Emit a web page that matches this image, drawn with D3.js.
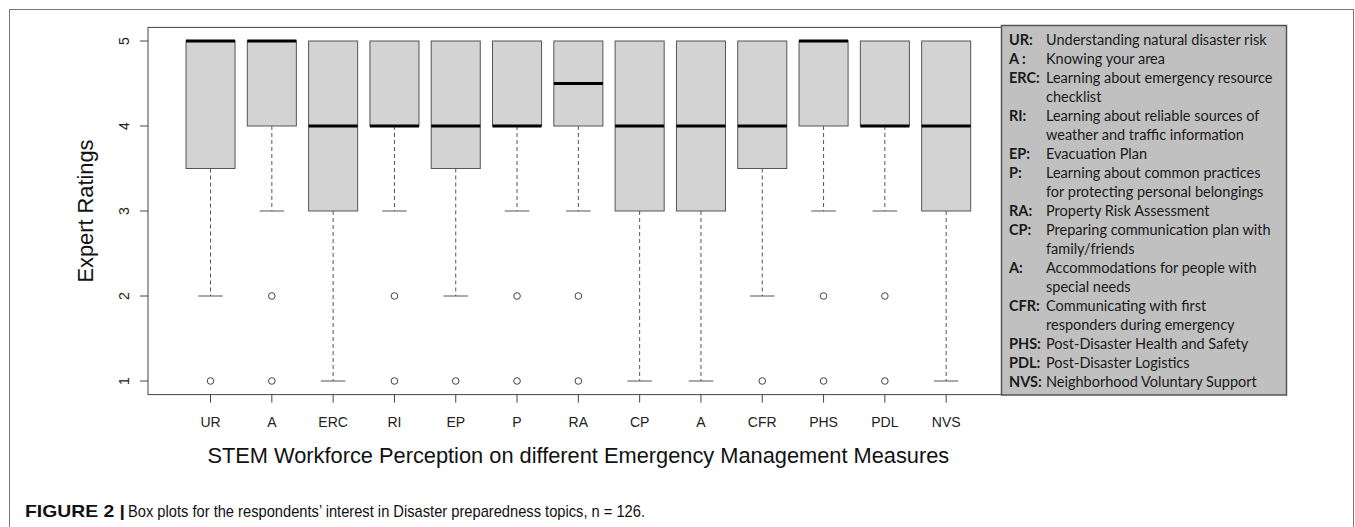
<!DOCTYPE html>
<html>
<head>
<meta charset="UTF-8">
<style>
body, html {
    margin: 0;
    padding: 0;
    width: 100%;
    height: 100%;
    overflow: hidden;
    background-color: #ffffff;
}
svg { display: block; }
.tick-label { font-family: "Liberation Sans", Arial, sans-serif; font-size: 14px; fill: #222; }
.axis-title { font-family: "Liberation Sans", Arial, sans-serif; font-size: 21.8px; fill: #111; }
.legend-text { font-family: Lato, "Open Sans", sans-serif; font-size: 14.5px; fill: #1a1a1a; }
.caption { font-family: "Liberation Sans", Arial, sans-serif; font-size: 17px; fill: #111; }
</style>
</head>
<body>
<svg id="chart" width="1355" height="527"></svg>
<script src="https://d3js.org/d3.v7.min.js"></script>
<script>
// measures on the x axis
let categories = ["UR", "A", "ERC", "RI", "EP", "P", "RA", "CP", "A", "CFR", "PHS", "PDL", "NVS"];

// five number summaries
let lowerWhisker = [2, 3, 1, 3, 2, 3, 3, 1, 1, 2, 3, 3, 1];
let q1 = [3.5, 4, 3, 4, 3.5, 4, 4, 3, 3, 3.5, 4, 4, 3];
let medians = [5, 5, 4, 4, 4, 4, 4.5, 4, 4, 4, 5, 4, 4];
let q3 = [5, 5, 5, 5, 5, 5, 5, 5, 5, 5, 5, 5, 5];
let upperWhisker = [5, 5, 5, 5, 5, 5, 5, 5, 5, 5, 5, 5, 5];
let outliers = [[1], [2, 1], [], [2, 1], [1], [2, 1], [2, 1], [], [], [1], [2, 1], [2, 1], []];

let yTicks = [1, 2, 3, 4, 5];

let legendAbbr = ["UR:", "A :", "ERC:", "RI:", "EP:", "P:", "RA:", "CP:", "A:", "CFR:", "PHS:", "PDL:", "NVS:"];
let legendText = [
    ["Understanding natural disaster risk"],
    ["Knowing your area"],
    ["Learning about emergency resource", "checklist"],
    ["Learning about reliable sources of", "weather and traffic information"],
    ["Evacuation Plan"],
    ["Learning about common practices", "for protecting personal belongings"],
    ["Property Risk Assessment"],
    ["Preparing communication plan with", "family/friends"],
    ["Accommodations for people with", "special needs"],
    ["Communicating with first", "responders during emergency"],
    ["Post-Disaster Health and Safety"],
    ["Post-Disaster Logistics"],
    ["Neighborhood Voluntary Support"]
];

let captionBold = "FIGURE 2 |";
let captionRest = "Box plots for the respondents\u2019 interest in Disaster preparedness topics, n = 126.";

let svg = d3.select("#chart");

// outer figure frame
svg.append("rect")
    .attr("x", 9.5).attr("y", 9.5)
    .attr("width", 1344).attr("height", 540)
    .attr("fill", "none")
    .attr("stroke", "#777");

let plotLeft = 148, plotRight = 1008.7, plotTop = 27.4, plotBottom = 394.6;

// R style: xlim 0.5..n+0.5 widened 4%
let x = d3.scaleLinear()
    .domain([-0.02, categories.length + 1.02])
    .range([plotLeft, plotRight]);
let y = d3.scaleLinear()
    .domain([0.84, 5.16])
    .range([plotBottom, plotTop]);

let unit = x(1) - x(0);
let boxW = unit * 0.8;
let capW = unit * 0.4;

let g = svg.append("g");

categories.forEach((c, i) => {
    let cx = x(i + 1);
    let bg = g.append("g");

    // lower whisker
    bg.append("line")
        .attr("x1", cx).attr("x2", cx)
        .attr("y1", y(q1[i])).attr("y2", y(lowerWhisker[i]))
        .attr("stroke", "#555")
        .attr("stroke-dasharray", "4,3");
    bg.append("line")
        .attr("x1", cx - capW / 2).attr("x2", cx + capW / 2)
        .attr("y1", y(lowerWhisker[i])).attr("y2", y(lowerWhisker[i]))
        .attr("stroke", "#555");

    // upper whisker (only if above the box)
    if (upperWhisker[i] > q3[i]) {
        bg.append("line")
            .attr("x1", cx).attr("x2", cx)
            .attr("y1", y(q3[i])).attr("y2", y(upperWhisker[i]))
            .attr("stroke", "#555")
            .attr("stroke-dasharray", "4,3");
    }

    // box
    bg.append("rect")
        .attr("x", cx - boxW / 2)
        .attr("y", y(q3[i]))
        .attr("width", boxW)
        .attr("height", y(q1[i]) - y(q3[i]))
        .attr("fill", "#d3d3d3")
        .attr("stroke", "#555");

    // median
    bg.append("line")
        .attr("x1", cx - boxW / 2).attr("x2", cx + boxW / 2)
        .attr("y1", y(medians[i])).attr("y2", y(medians[i]))
        .attr("stroke", "#000")
        .attr("stroke-width", 3);

    // outliers
    bg.selectAll("circle")
        .data(outliers[i])
        .enter()
        .append("circle")
        .attr("cx", cx)
        .attr("cy", d => y(d))
        .attr("r", 3.3)
        .attr("fill", "none")
        .attr("stroke", "#444");
});

// plot frame
svg.append("rect")
    .attr("x", plotLeft).attr("y", plotTop)
    .attr("width", plotRight - plotLeft)
    .attr("height", plotBottom - plotTop)
    .attr("fill", "none")
    .attr("stroke", "#444");

// y axis
let yAxis = svg.append("g");
yTicks.forEach(t => {
    yAxis.append("line")
        .attr("x1", plotLeft - 8).attr("x2", plotLeft)
        .attr("y1", y(t)).attr("y2", y(t))
        .attr("stroke", "#444");
    yAxis.append("text")
        .attr("class", "tick-label")
        .attr("transform", `translate(${plotLeft - 24},${y(t)}) rotate(-90)`)
        .attr("text-anchor", "middle")
        .attr("dy", "0.35em")
        .text(t);
});

// x axis
let xAxis = svg.append("g");
categories.forEach((c, i) => {
    xAxis.append("line")
        .attr("x1", x(i + 1)).attr("x2", x(i + 1))
        .attr("y1", plotBottom).attr("y2", plotBottom + 8)
        .attr("stroke", "#444");
    xAxis.append("text")
        .attr("class", "tick-label")
        .attr("x", x(i + 1))
        .attr("y", 427)
        .attr("text-anchor", "middle")
        .text(c);
});

// axis titles
svg.append("text")
    .attr("class", "axis-title")
    .attr("x", (plotLeft + plotRight) / 2)
    .attr("y", 463)
    .attr("text-anchor", "middle")
    .text("STEM Workforce Perception on different Emergency Management Measures");

svg.append("text")
    .attr("class", "axis-title")
    .attr("transform", `translate(93,${(plotTop + plotBottom) / 2}) rotate(-90)`)
    .attr("text-anchor", "middle")
    .text("Expert Ratings");

// legend box
let lg = svg.append("g");
lg.append("rect")
    .attr("x", 1001.5).attr("y", 25.5)
    .attr("width", 285).attr("height", 369.5)
    .attr("fill", "#c0c0c0")
    .attr("stroke", "#555")
    .attr("stroke-width", 1.5);

let lineY = 44.5;
let lineStep = 19;
legendAbbr.forEach((a, i) => {
    lg.append("text")
        .attr("class", "legend-text")
        .attr("x", 1009)
        .attr("y", lineY)
        .attr("font-weight", "bold")
        .text(a);
    legendText[i].forEach(line => {
        lg.append("text")
            .attr("class", "legend-text")
            .attr("x", 1046)
            .attr("y", lineY)
            .text(line);
        lineY += lineStep;
    });
});

// caption
let cap = svg.append("g");
cap.append("text")
    .attr("class", "caption")
    .attr("x", 25)
    .attr("y", 517)
    .attr("font-weight", "bold")
    .attr("textLength", 100)
    .attr("lengthAdjust", "spacingAndGlyphs")
    .text(captionBold);
cap.append("text")
    .attr("class", "caption")
    .attr("x", 128)
    .attr("y", 517)
    .attr("textLength", 517)
    .attr("lengthAdjust", "spacingAndGlyphs")
    .text(captionRest);
</script>
</body>
</html>
